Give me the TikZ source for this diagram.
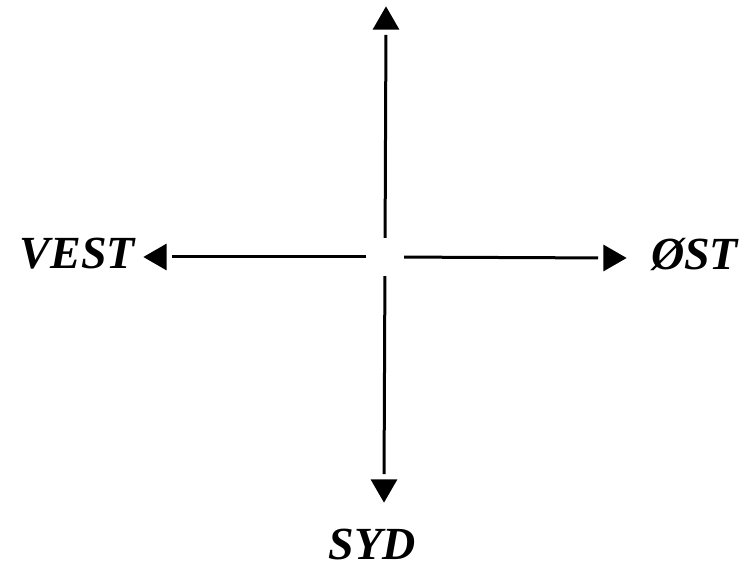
\documentclass[tikz,border=0pt]{standalone}
\usepackage{fontspec}
\setmainfont{Liberation Serif}
\usetikzlibrary{shapes.geometric}

\begin{document}
\begin{tikzpicture}[
    x=1pt, y=1pt,
    compass/.style={line width=3pt, shorten >=5pt}, % Style for the four shafts
    head/.style={regular polygon, regular polygon sides=3, fill, inner sep=0pt, minimum size=31pt}, % Arrow heads
    direction/.style={font=\fontsize{46}{50}\selectfont\bfseries\itshape, inner sep=0pt} % Style for the labels
]

    % Page size
    \useasboundingbox (0, 0) rectangle (748, 571);

    % Empty hub in the middle
    \node[circle, minimum size=38pt, inner sep=0pt] (hub) at (385, 314) {};

    % Arrow heads, apex on the given point
    \node[head, anchor=corner 1] (north) at (386, 565) {};
    \node[head, shape border rotate=180, anchor=corner 1] (south) at (384, 68) {};
    \node[head, shape border rotate=90, anchor=corner 1] (west) at (143, 314) {};
    \node[head, shape border rotate=270, anchor=corner 1] (east) at (627, 313) {};

    % Shafts
    \draw[compass] (hub) -- (north);
    \draw[compass] (hub) -- (south);
    \draw[compass] (hub) -- (west);
    \draw[compass] (hub) -- (east);

    % Labels
    \node[direction, anchor=base east] (vest) at (135, 302) {VEST};
    \node[direction, anchor=base west] (ost) at (651, 301) {ØST};
    \node[direction, anchor=base] (syd) at (372, 11) {SYD};

\end{tikzpicture}
\end{document}
